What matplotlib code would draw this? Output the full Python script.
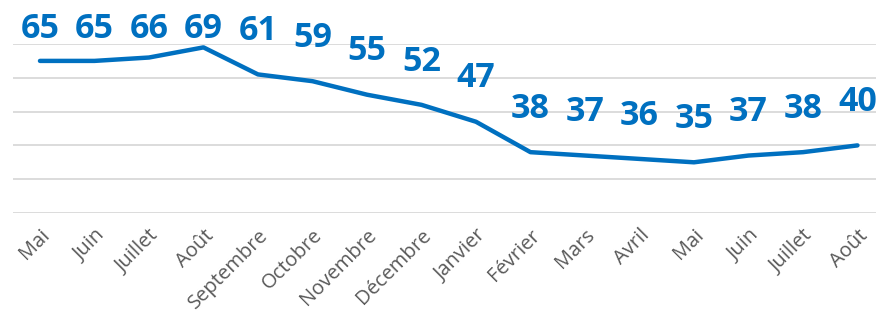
import numpy as np
import matplotlib.pyplot as plt

months = ["Mai", "Juin", "Juillet", "Août", "Septembre", "Octobre", "Novembre",
          "Décembre", "Janvier", "Février", "Mars", "Avril", "Mai", "Juin",
          "Juillet", "Août"]
values = [65, 65, 66, 69, 61, 59, 55, 52, 47, 38, 37, 36, 35, 37, 38, 40]

blue = "#0070C0"

fig = plt.figure(figsize=(8.76, 3.18), dpi=100)
ax = fig.add_axes([13 / 876, 1 - 213 / 318, 1 - 13 / 876, (213 - 44) / 318])

x = np.arange(len(values))
ax.plot(x, values, color=blue, lw=3.2, solid_capstyle="round", zorder=3)

ax.set_ylim(20, 70)
ax.set_xlim(-0.495, 15.34)
ax.set_yticks(np.arange(20, 71, 10))
ax.yaxis.grid(True, color="#D9D9D9", lw=1.3)
ax.set_axisbelow(True)
for s in ax.spines.values():
    s.set_visible(False)
ax.tick_params(axis="y", left=False, labelleft=False)
ax.tick_params(axis="x", length=0, pad=9)

ax.set_xticks(x)
ax.set_xticklabels(months, rotation=45, ha="right", va="top",
                   rotation_mode="anchor", fontsize=14.5, color="#595959",
                   family="Open Sans")

# labels sit above the points, pushed down near the top of the chart
label_y = np.minimum(np.array(values) + 12.8, 74.5)
for xi, v, ly in zip(x, values, label_y):
    ax.text(xi, ly, str(v), ha="center", va="center", color=blue,
            fontsize=24.5, fontweight="bold", family="Open Sans", clip_on=False)

fig.savefig("out.png", dpi=100)
